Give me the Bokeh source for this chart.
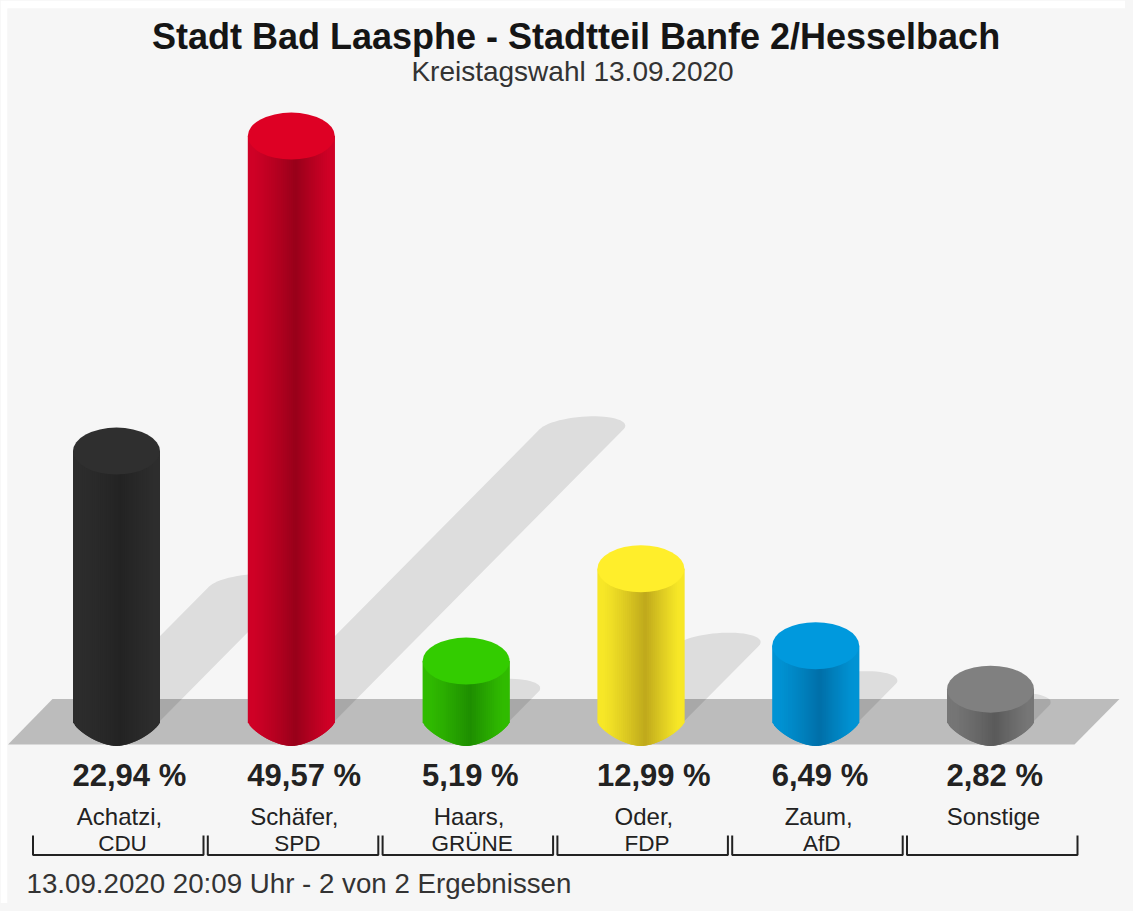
import numpy as np
from bokeh.plotting import figure
from bokeh.core.properties import value
from bokeh.embed import file_html
from bokeh.resources import INLINE

TITLE = "Stadt Bad Laasphe - Stadtteil Banfe 2/Hesselbach"
SUBTITLE = "Kreistagswahl 13.09.2020"
FOOTER = "13.09.2020 20:09 Uhr - 2 von 2 Ergebnissen"
names = ["Achatzi,", "Schäfer,", "Haars,", "Oder,", "Zaum,", "Sonstige"]
parties = ["CDU", "SPD", "GRÜNE", "FDP", "AfD", ""]
values = [22.94, 49.57, 5.19, 12.99, 6.49, 2.82]
value_labels = ["22,94 %", "49,57 %", "5,19 %", "12,99 %", "6,49 %", "2,82 %"]
top_colors = ["#2f2f2f", "#de0024", "#33cc00", "#ffee2b", "#0099dd", "#808080"]
edge_colors = ["#2d2d2d", "#cf0026", "#30bb00", "#f7e727", "#0093d4", "#767676"]
dark_colors = ["#232323", "#98001a", "#1e8e00", "#bfa91c", "#006fa8", "#5a5a5a"]

# layout: pixel geometry of the frame
W, H = 1125, 903
LEFT, TOP = 7, 8
X0, DX = 116.0, 174.8     # px of first bar, spacing
BASE_PX, SCALE = 722.0, 11.83  # px of value 0, px per percent
A_PX, B_PX = 43.5, 23.5   # cylinder semi axes


def fx(px):
    return (px - X0) / DX


def fy(px):
    return (BASE_PX - px) / SCALE


A = A_PX / DX
B = B_PX / SCALE

p = figure(width=W, height=H, x_range=(fx(LEFT), fx(W)), y_range=(fy(H), fy(TOP)),
           toolbar_location=None, output_backend="svg",
           min_border_left=LEFT, min_border_top=TOP, min_border_right=0, min_border_bottom=0,
           background_fill_color="#f6f6f6", border_fill_color="white", outline_line_color=None)
p.axis.visible = False
p.grid.visible = False

# floor
p.patch([fx(7.5), fx(52), fx(1119), fx(1074)], [fy(744), fy(698.5), fy(698.5), fy(744)],
        fill_color="#bcbcbc", line_color=None)

# shadows: half the height, sheared 45 degrees
theta = np.linspace(0, np.pi, 30)
sx, sy = [], []
for i, v in enumerate(values):
    d_val = v / 2.0
    d_x = 0.99 * d_val * SCALE / DX
    a_s = 42.0 / DX
    b_s = 13.0 / SCALE
    k = 12.0 / DX
    cap_x = i + d_x + a_s * np.cos(theta) + k * np.sin(theta)
    cap_y = d_val + b_s * np.sin(theta)
    sx.append([i + a_s] + list(cap_x) + [i - a_s])
    sy.append([0] + list(cap_y) + [0])
p.patches(sx, sy, fill_color="black", fill_alpha=0.1, line_color=None)


def blend(c1, c2, t):
    a = [int(c1[j:j + 2], 16) for j in (1, 3, 5)]
    b = [int(c2[j:j + 2], 16) for j in (1, 3, 5)]
    return "#%02x%02x%02x" % tuple(int(round(a[j] + (b[j] - a[j]) * t)) for j in range(3))


# cylinder bodies as thin vertical strips, painted left to right with overlap
N = 44
edges = np.linspace(-1, 1, N + 1)
OV = 2.0 / A_PX
bx, by, bc = [], [], []
for i, v in enumerate(values):
    for j in range(N):
        t0, t1 = edges[j], edges[j + 1]
        u = ((t0 + t1) / 2 + 1) / 2
        if u < 0.55:
            f = (max(u - 0.06, 0) / 0.49) ** 1.2
        else:
            f = max(1 - (u - 0.55) / 0.38, 0) ** 1.1
        col = blend(edge_colors[i], dark_colors[i], f)
        t1e = min(t1 + OV, 1.0)
        b0 = -B * (1 - abs(t0) ** 1.7) ** 0.8
        b1 = -B * (1 - abs(t1e) ** 1.7) ** 0.8
        bx.append([i + A * t0, i + A * t1e, i + A * t1e, i + A * t0])
        by.append([b0, b1, v, v])
        bc.append(col)
p.patches(bx, by, fill_color=bc, line_color=None)

# cylinder tops
p.ellipse(list(range(6)), values, width=2 * A, height=2 * B, fill_color=top_colors, line_color=None)

FONT = value("Liberation Sans")
idx = np.arange(6)

p.text([fx(575.5)], [fy(36)], text=[TITLE], text_font=FONT, text_font_size="36px", text_font_style="bold",
       text_align="center", text_baseline="middle", text_color="#151515")
p.text([fx(572)], [fy(71)], text=[SUBTITLE], text_font=FONT, text_font_size="28px",
       text_align="center", text_baseline="middle", text_color="#333333")
p.text(list(idx - 44 / DX), [fy(775)] * 6, text=value_labels, text_font=FONT, text_font_size="31px",
       text_font_style="bold", text_align="left", text_baseline="middle", text_color="#222222")
p.text(list(idx + 3 / DX), [fy(816)] * 6, text=names, text_font=FONT, text_font_size="24px",
       text_align="center", text_baseline="middle", text_color="#222222")
p.text(list(idx + 6 / DX), [fy(843)] * 6, text=parties, text_font=FONT, text_font_size="22.5px",
       text_align="center", text_baseline="middle", text_color="#222222")
p.text([fx(26)], [fy(883)], text=[FOOTER], text_font=FONT, text_font_size="27.7px",
       text_align="left", text_baseline="middle", text_color="#333333")

# brackets
mx, my = [], []
for i in range(6):
    l = fx(32.5) + i
    r = fx(203) + i
    mx.append([l, l, r, r])
    my.append([fy(835), fy(854.5), fy(854.5), fy(835)])
p.multi_line(mx, my, line_color="#222222", line_width=2)

html = file_html(p, INLINE)
html = html.replace("<head>", "<head><style>html,body{background:#f6f6f6}</style>", 1)
open("out.html", "w").write(html)
